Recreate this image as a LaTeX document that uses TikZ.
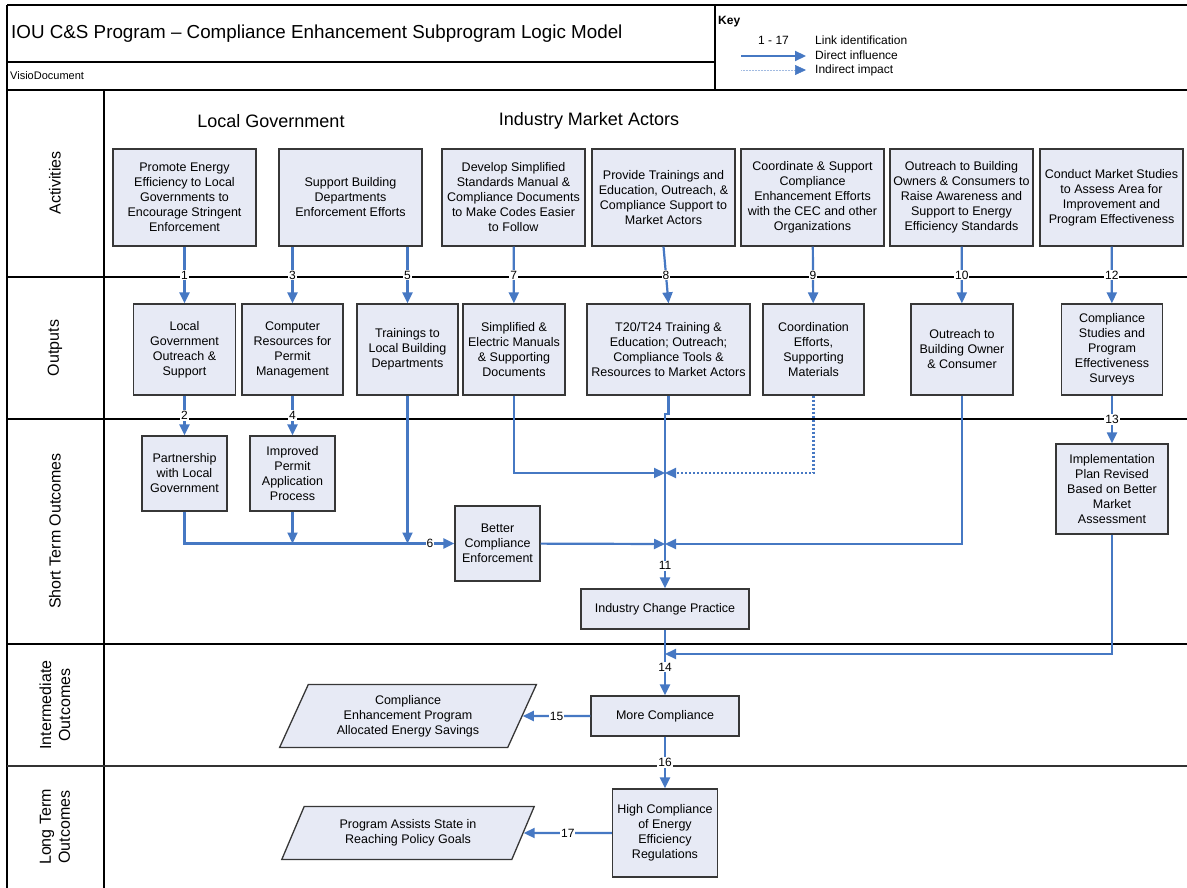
\documentclass[tikz,border=0pt]{standalone}
\usepackage{fontspec}
\setmainfont{Liberation Sans}
\usepackage{xcolor}
\usetikzlibrary{calc,positioning,arrows.meta,shapes.geometric}
\definecolor{linkblue}{RGB}{70,120,195}
\definecolor{boxfill}{RGB}{231,234,245}
\definecolor{boxline}{RGB}{55,55,55}
\tikzset{
	box/.style={draw=boxline,line width=1.3pt,fill=boxfill,align=center,inner sep=0pt,font=\fontsize{12.5}{15}\selectfont},
	slantbox/.style={trapezium,trapezium stretches=true,draw=boxline,line width=1.3pt,fill=boxfill,align=center,inner sep=0pt,font=\fontsize{12.5}{15}\selectfont},
	link/.style={draw=linkblue,line width=2.2pt,-{Triangle[length=11pt,width=10pt]}},
	linkno/.style={fill=white,inner sep=1pt,font=\fontsize{12}{12}\selectfont},
	lane/.style={draw=black,line width=1.3pt},
	lanename/.style={rotate=90,align=center,font=\fontsize{16}{19}\selectfont},
	keytext/.style={anchor=west,inner sep=0pt,font=\fontsize{12}{12}\selectfont}
}
\begin{document}
\begin{tikzpicture}[x=1pt,y=-1pt]
	\useasboundingbox (0,0) rectangle (1187,888);
	% frame and lanes
	\draw[lane] (7,5) -- (1190,5);
	\draw[lane] (7,5) -- (7,890);
	\draw[lane] (7,62) -- (715,62);
	\draw[lane] (715,5) -- (715,90);
	\draw[lane] (7,90) -- (1190,90);
	\draw[lane] (104,90) -- (104,890);
	\draw[lane] (7,277) -- (1190,277);
	\draw[lane] (7,419) -- (1190,419);
	\draw[lane] (7,644) -- (1190,644);
	\draw[lane,line width=2.2pt,draw=black!80] (7,766) -- (1190,766);
	\node[anchor=west,inner sep=0pt,font=\fontsize{18.8}{20}\selectfont] (title) at (11,34) {IOU C\&S Program -- Compliance Enhancement Subprogram Logic Model};
	\node[anchor=west,inner sep=0pt,font=\fontsize{11}{12}\selectfont] (visio) at (10,76) {VisioDocument};
	% key
	\node[anchor=west,inner sep=0pt,font=\bfseries\fontsize{12}{12}\selectfont] (key) at (718,22) {Key};
	\node[keytext] (keyno) at (758,40) {1 - 17};
	\node[keytext] (keyid) at (815,40) {Link identification};
	\node[keytext] (keydir) at (815,55) {Direct influence};
	\node[keytext] (keyind) at (815,70) {Indirect impact};
	\coordinate (kd1) at (741,56);
	\coordinate (kd2) at (806,56);
	\coordinate (ki1) at (741,70);
	\coordinate (ki2) at (806,70);
	\draw[link] (kd1) -- (kd2);
	\draw[draw=linkblue!50,line width=0.5pt,densely dotted,-{Triangle[length=11pt,width=10pt,color=linkblue]}] (ki1) -- (ki2);
	% lane names
	\node[lanename] (lact) at (55,183) {Activities};
	\node[lanename] (lout) at (55,348) {Outputs};
	\node[lanename] (lshort) at (55,531) {Short Term Outcomes};
	\node[lanename] (lint) at (55,705) {Intermediate\\Outcomes};
	\node[lanename] (llong) at (55,827) {Long Term\\Outcomes};
	\node[font=\fontsize{18}{20}\selectfont] (hlocal) at (271,121) {Local Government};
	\node[font=\fontsize{18}{20}\selectfont] (hmarket) at (589,121) {Industry Market Actors};
	% activities
	\node[box,minimum width=143,minimum height=97] (a1) at (184.5,197.5) {Promote Energy\\Efficiency to Local\\Governments to\\Encourage Stringent\\Enforcement};
	\node[box,minimum width=143,minimum height=97] (a2) at (350.5,197.5) {Support Building\\Departments\\Enforcement Efforts};
	\node[box,minimum width=143,minimum height=97] (a3) at (513.5,197.5) {Develop Simplified\\Standards Manual \&\\Compliance Documents\\to Make Codes Easier\\to Follow};
	\node[box,minimum width=143,minimum height=97] (a4) at (663.5,197.5) {Provide Trainings and\\Education, Outreach, \&\\Compliance Support to\\Market Actors};
	\node[box,minimum width=143,minimum height=97] (a5) at (812.5,197.5) {Coordinate \& Support\\Compliance\\Enhancement Efforts\\with the CEC and other\\Organizations};
	\node[box,minimum width=143,minimum height=97] (a6) at (961.5,197.5) {Outreach to Building\\Owners \& Consumers to\\Raise Awareness and\\Support to Energy\\Efficiency Standards};
	\node[box,minimum width=143,minimum height=97] (a7) at (1111.5,197.5) {Conduct Market Studies\\to Assess Area for\\Improvement and\\Program Effectiveness};
	% outputs
	\node[box,minimum width=102,minimum height=91] (o1) at (184.5,349.5) {Local\\Government\\Outreach \&\\Support};
	\node[box,minimum width=101,minimum height=91] (o2) at (292.5,349.5) {Computer\\Resources for\\Permit\\Management};
	\node[box,minimum width=101,minimum height=91] (o3) at (407.5,349.5) {Trainings to\\Local Building\\Departments};
	\node[box,minimum width=102,minimum height=91] (o4) at (514,349.5) {Simplified \&\\Electric Manuals\\\& Supporting\\Documents};
	\node[box,minimum width=163,minimum height=91] (o5) at (668.5,349.5) {T20/T24 Training \&\\Education; Outreach;\\Compliance Tools \&\\Resources to Market Actors};
	\node[box,minimum width=101,minimum height=91] (o6) at (813.5,349.5) {Coordination\\Efforts,\\Supporting\\Materials};
	\node[box,minimum width=102,minimum height=91] (o7) at (962,349.5) {Outreach to\\Building Owner\\\& Consumer};
	\node[box,minimum width=101,minimum height=91] (o8) at (1112,349.5) {Compliance\\Studies and\\Program\\Effectiveness\\Surveys};
	% short term outcomes
	\node[box,minimum width=85,minimum height=75] (s1) at (184.5,473.5) {Partnership\\with Local\\Government};
	\node[box,minimum width=85,minimum height=75] (s2) at (292.5,473.5) {Improved\\Permit\\Application\\Process};
	\node[box,minimum width=85,minimum height=75] (s3) at (497.5,543.5) {Better\\Compliance\\Enforcement};
	\node[box,minimum width=168,minimum height=40] (ind) at (665,609) {Industry Change Practice};
	\node[box,minimum width=112,minimum height=90] (s5) at (1112,489) {Implementation\\Plan Revised\\Based on Better\\Market\\Assessment};
	% intermediate and long term outcomes
	\node[box,minimum width=148,minimum height=40] (more) at (665,716) {More Compliance};
	\node[slantbox,minimum width=257,minimum height=63,trapezium left angle=63.8,trapezium right angle=116.2] (alloc) at (408,716) {Compliance\\Enhancement Program\\Allocated Energy Savings};
	\node[box,minimum width=105,minimum height=88] (high) at (665,833) {High Compliance\\of Energy\\Efficiency\\Regulations};
	\node[slantbox,minimum width=253,minimum height=53,trapezium left angle=61,trapezium right angle=119] (goals) at (408,833) {Program Assists State in\\Reaching Policy Goals};
	\coordinate (jman) at (665,473);
	\coordinate (jenf) at (665,544);
	\coordinate (jplan) at (665,654);
	% links
	\draw[link] (a1) -- node[linkno]{1} (o1);
	\draw[link] (a2.south -| o2) -- node[linkno]{3} (o2);
	\draw[link] (a2.south -| o3) -- node[linkno]{5} (o3);
	\draw[link] (a3) -- node[linkno]{7} (o4);
	\draw[link] (a4.south) -- node[linkno]{8} (o5.north);
	\draw[link] (a5) -- node[linkno]{9} (o6);
	\draw[link] (a6) -- node[linkno]{10} (o7);
	\draw[link] (a7) -- node[linkno]{12} (o8);
	\draw[link] (o1) -- node[linkno]{2} (s1);
	\draw[link] (o2) -- node[linkno]{4} (s2);
	\draw[link] (o8) -- node[linkno]{13} (s5);
	\draw[link] (s2) -- (s2 |- s3);
	\draw[link] (o3) -- (o3 |- s3);
	\draw[link] (s1) |- node[linkno,pos=0.955]{6} (s3);
	\draw[link] (o4) |- (jman);
	\draw[link,dash pattern=on 2pt off 2pt] (o6) |- (jman);
	\draw[link] (s3) -- (jenf);
	\draw[link] (o7) |- (jenf);
	\draw[link] (o5.south) -- ++(0,18) -| node[linkno,pos=0.935]{11} (ind.north);
	\draw[link] (s5) |- (jplan);
	\draw[link] (ind) -- node[linkno,pos=0.57]{14} (more);
	\draw[link] (more) -- node[linkno]{15} (alloc);
	\draw[link] (more) -- node[linkno]{16} (high);
	\draw[link] (high) -- node[linkno]{17} (goals);
\end{tikzpicture}
\end{document}
